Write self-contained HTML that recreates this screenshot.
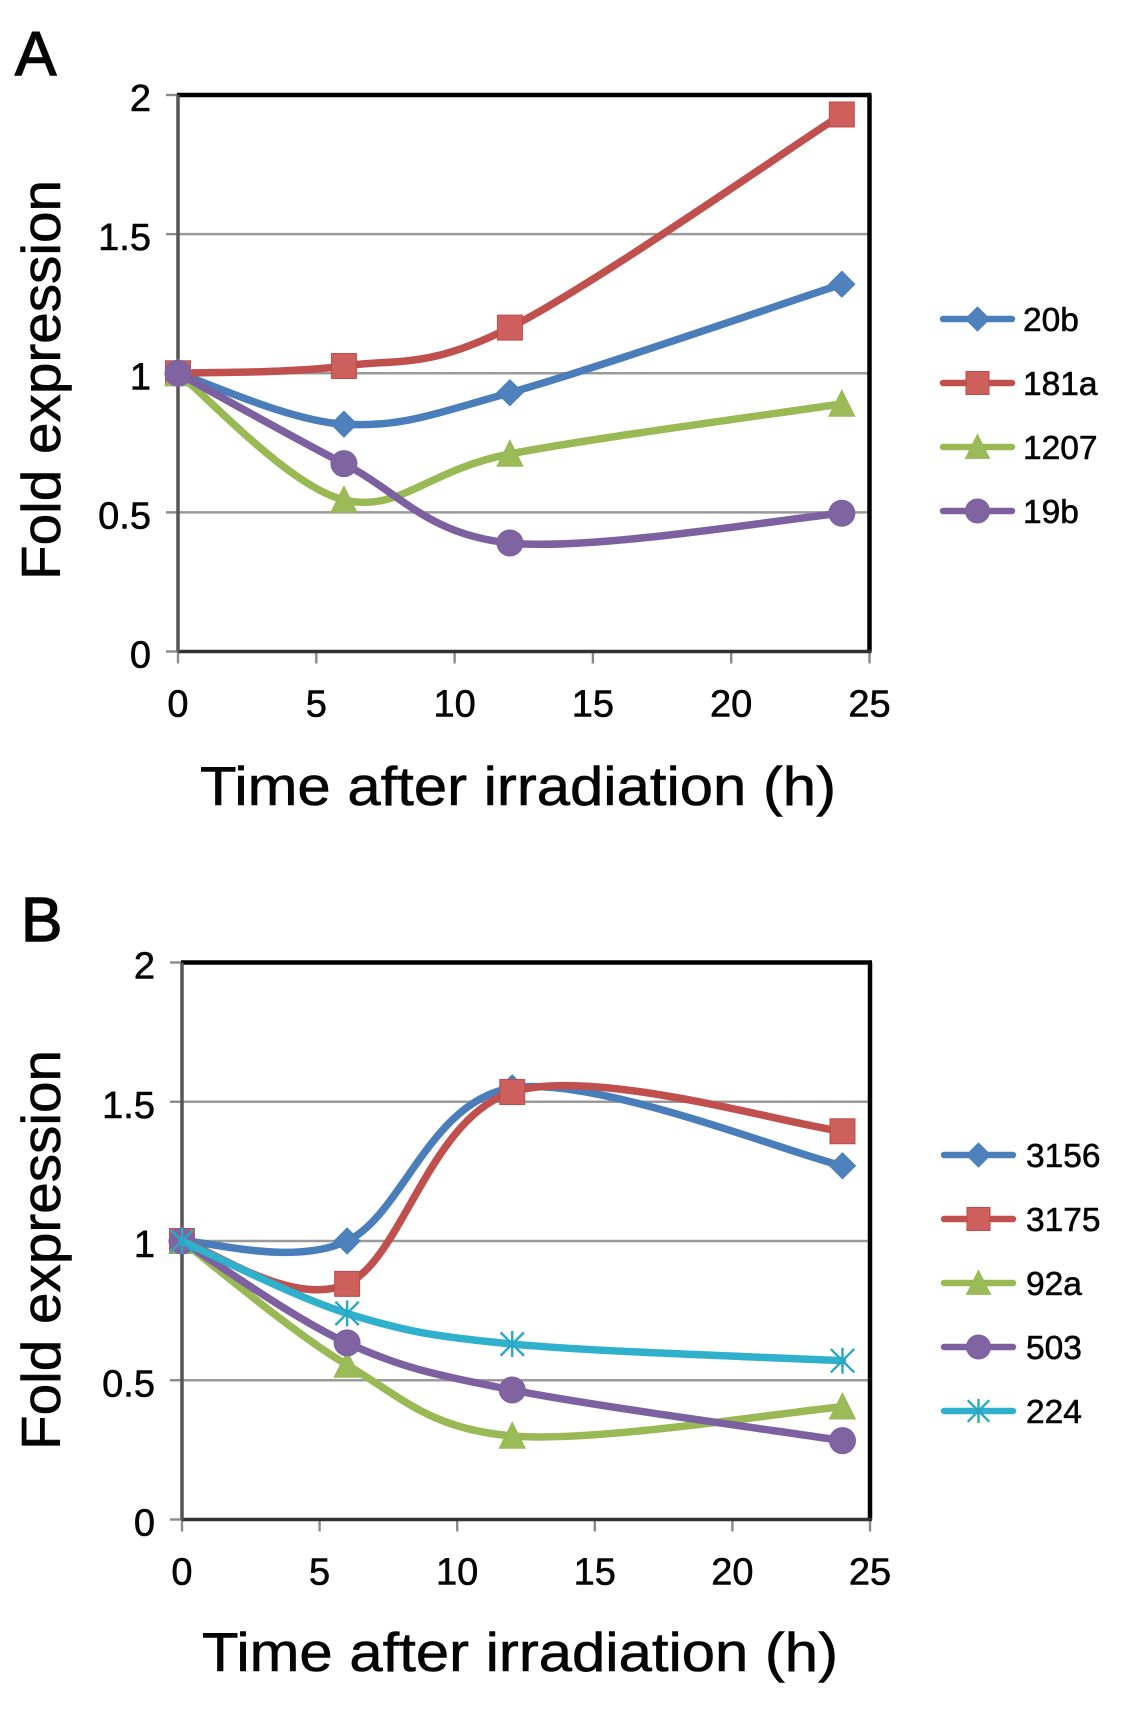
<!DOCTYPE html>
<html lang="en">
<head>
<meta charset="utf-8">
<title>Fold expression after irradiation</title>
<style>
html,body{margin:0;padding:0;background:#fff;}
#figure{display:block;width:1122px;height:1721px;font-family:"Liberation Sans",sans-serif;}
text{fill:#050505;stroke:#050505;stroke-width:0.6px;font-family:"Liberation Sans",sans-serif;}
</style>
</head>
<body>
<svg id="figure" xmlns="http://www.w3.org/2000/svg" width="1122" height="1721" viewBox="0 0 1122 1721">
  <rect x="0" y="0" width="1122" height="1721" fill="#ffffff"/>
  <text x="15" y="75" font-size="62" style="stroke-width:1.4px">A</text>
  <text x="21" y="941" font-size="62" style="stroke-width:1.4px">B</text>
  <g id="chart-a"></g>
  <g id="chart-b"></g>
  <text x="0" y="0" transform="translate(60 380) rotate(-90)" text-anchor="middle" font-size="55" textLength="400" lengthAdjust="spacingAndGlyphs">Fold expression</text>
  <text x="518" y="805" text-anchor="middle" font-size="55" textLength="636" lengthAdjust="spacingAndGlyphs">Time after irradiation (h)</text>
  <text x="0" y="0" transform="translate(60 1250) rotate(-90)" text-anchor="middle" font-size="55" textLength="400" lengthAdjust="spacingAndGlyphs">Fold expression</text>
  <text x="520" y="1671" text-anchor="middle" font-size="55" textLength="636" lengthAdjust="spacingAndGlyphs">Time after irradiation (h)</text>
</svg>
<script>
const timePoints = [0, 6, 12, 24];
const xTickLabels = [0, 5, 10, 15, 20, 25];
const yTickLabels = [0, 0.5, 1, 1.5, 2];

const seriesNamesA = ['20b', '181a', '1207', '19b'];
const values20b = [1, 0.817, 0.93, 1.32];
const values181a = [1, 1.026, 1.164, 1.93];
const values1207 = [1, 0.545, 0.71, 0.89];
const values19b = [1, 0.675, 0.39, 0.497];

const seriesNamesB = ['3156', '3175', '92a', '503', '224'];
const values3156 = [1, 1.0, 1.55, 1.27];
const values3175 = [1, 0.846, 1.535, 1.394];
const values92a = [1, 0.555, 0.30, 0.405];
const values503 = [1, 0.634, 0.465, 0.283];
const values224 = [1, 0.74, 0.63, 0.57];

const NS = 'http://www.w3.org/2000/svg';
const STYLES = {
  blue: {line: '#4a7ebb', fill: '#4f81bd', stroke: '#4a7ebb', marker: 'diamond'},
  red: {line: '#c0504d', fill: '#cd5f5c', stroke: '#be4b48', marker: 'square'},
  green: {line: '#98b954', fill: '#9bbb59', stroke: '#98b954', marker: 'triangle'},
  purple: {line: '#7d60a0', fill: '#8064a2', stroke: '#7d60a0', marker: 'circle'},
  cyan: {line: '#2fb0cc', fill: 'none', stroke: '#2aa8c4', marker: 'star'}
};

function make(tag, attrs, parent) {
  const node = document.createElementNS(NS, tag);
  Object.keys(attrs).forEach(function (k) { node.setAttribute(k, attrs[k]); });
  parent.appendChild(node);
  return node;
}

function smoothPath(pts) {
  let d = 'M' + pts[0][0].toFixed(2) + ' ' + pts[0][1].toFixed(2);
  for (let i = 0; i < pts.length - 1; i++) {
    const p0 = pts[Math.max(0, i - 1)];
    const p1 = pts[i];
    const p2 = pts[i + 1];
    const p3 = pts[Math.min(pts.length - 1, i + 2)];
    const c1x = p1[0] + (p2[0] - p0[0]) / 6;
    const c1y = p1[1] + (p2[1] - p0[1]) / 6;
    const c2x = p2[0] - (p3[0] - p1[0]) / 6;
    const c2y = p2[1] - (p3[1] - p1[1]) / 6;
    d += ' C' + c1x.toFixed(2) + ' ' + c1y.toFixed(2) + ' ' + c2x.toFixed(2) + ' ' + c2y.toFixed(2) + ' ' + p2[0].toFixed(2) + ' ' + p2[1].toFixed(2);
  }
  return d;
}

function drawMarker(parent, kind, cx, cy, style, size) {
  const r = size / 2;
  let m;
  if (kind === 'diamond') {
    m = make('polygon', {points: cx + ',' + (cy - r) + ' ' + (cx + r) + ',' + cy + ' ' + cx + ',' + (cy + r) + ' ' + (cx - r) + ',' + cy, fill: style.fill, stroke: style.stroke, 'stroke-width': 1}, parent);
  } else if (kind === 'square') {
    const s = r * 0.96;
    m = make('rect', {x: cx - s, y: cy - s, width: 2 * s, height: 2 * s, fill: style.fill, stroke: style.stroke, 'stroke-width': 1}, parent);
  } else if (kind === 'triangle') {
    m = make('polygon', {points: cx + ',' + (cy - r * 1.05) + ' ' + (cx + r) + ',' + (cy + r * 0.95) + ' ' + (cx - r) + ',' + (cy + r * 0.95), fill: style.fill, stroke: style.stroke, 'stroke-width': 1}, parent);
  } else if (kind === 'circle') {
    m = make('circle', {cx: cx, cy: cy, r: r, fill: style.fill, stroke: style.stroke, 'stroke-width': 1}, parent);
  } else {
    const a = r * 0.9;
    const d = 'M' + (cx - a) + ' ' + (cy - a) + 'L' + (cx + a) + ' ' + (cy + a) +
      'M' + (cx + a) + ' ' + (cy - a) + 'L' + (cx - a) + ' ' + (cy + a) +
      'M' + cx + ' ' + (cy - r) + 'L' + cx + ' ' + (cy + r);
    m = make('path', {d: d, fill: 'none', stroke: style.stroke, 'stroke-width': 2.4}, parent);
  }
  return m;
}

function drawChart(rootId, plot, names, valueSets, styleKeys, legend) {
  const root = document.getElementById(rootId);
  const xScale = function (v) { return plot.left + (v / 25) * (plot.right - plot.left); };
  const yScale = function (v) { return plot.bottom - (v / 2) * (plot.bottom - plot.top); };

  yTickLabels.forEach(function (t) {
    const y = yScale(t);
    if (t > 0 && t < 2) {
      const grid = make('line', {x1: plot.left, x2: plot.right, y1: y, y2: y, stroke: '#9a9a9a', 'stroke-width': 2.4}, root);
      
      
    }
    const tick = make('line', {x1: plot.left - 12, x2: plot.left, y1: y, y2: y, stroke: '#8a8a8a', 'stroke-width': 2.4}, root);
    
    
    const label = make('text', {x: plot.left - 27, y: y + 16, 'text-anchor': 'end', 'font-size': 38}, root);
    label.textContent = String(t);
    
    
  });

  xTickLabels.forEach(function (t) {
    const x = xScale(t);
    const tick = make('line', {x1: x, x2: x, y1: plot.bottom, y2: plot.bottom + 12, stroke: '#8a8a8a', 'stroke-width': 2.4}, root);
    
    
    const label = make('text', {x: x, y: plot.bottom + 65, 'text-anchor': 'middle', 'font-size': 38}, root);
    label.textContent = String(t);
    
    
  });

  const topEdge = make('line', {x1: plot.left - 1, x2: plot.right + 2, y1: plot.top, y2: plot.top, stroke: '#000', 'stroke-width': 4.5}, root);
  
  
  const rightEdge = make('line', {x1: plot.right, x2: plot.right, y1: plot.top, y2: plot.bottom, stroke: '#000', 'stroke-width': 4.5}, root);
  
  
  const bottomEdge = make('line', {x1: plot.left, x2: plot.right + 2, y1: plot.bottom, y2: plot.bottom, stroke: '#333', 'stroke-width': 3.5}, root);
  
  
  const leftEdge = make('line', {x1: plot.left, x2: plot.left, y1: plot.top, y2: plot.bottom, stroke: '#555', 'stroke-width': 3.5}, root);
  
  

  names.forEach(function (name, i) {
    const style = STYLES[styleKeys[i]];
    const group = make('g', {}, root);
    
    
    const pts = timePoints.map(function (t, j) { return [xScale(t), yScale(valueSets[i][j])]; });
    const path = make('path', {d: smoothPath(pts), fill: 'none', stroke: style.line, 'stroke-width': 7.5, 'stroke-linecap': 'round'}, group);
    
    
    pts.forEach(function (p) {
      const m = drawMarker(group, style.marker, p[0], p[1], style, 26);
      
      
    });
    const ly = legend.y + i * legend.step;
    const entry = make('g', {}, root);
    
    
    const swatch = make('line', {x1: legend.x1, x2: legend.x2, y1: ly, y2: ly, stroke: style.line, 'stroke-width': 6.5, 'stroke-linecap': 'round'}, entry);
    
    
    const lm = drawMarker(entry, style.marker, (legend.x1 + legend.x2) / 2, ly, style, 24);
    
    
    const lt = make('text', {x: legend.tx, y: ly + 12, 'font-size': 33.5}, entry);
    lt.textContent = name;
    
    
  });
}

drawChart('chart-a', {left: 178, right: 869.5, top: 95, bottom: 651.5},
  seriesNamesA, [values20b, values181a, values1207, values19b],
  ['blue', 'red', 'green', 'purple'],
  {x1: 943, x2: 1012, y: 319, step: 64, tx: 1023});

drawChart('chart-b', {left: 182, right: 870, top: 962.5, bottom: 1519.5},
  seriesNamesB, [values3156, values3175, values92a, values503, values224],
  ['blue', 'red', 'green', 'purple', 'cyan'],
  {x1: 944, x2: 1013, y: 1155, step: 64, tx: 1026});
</script>
</body>
</html>
